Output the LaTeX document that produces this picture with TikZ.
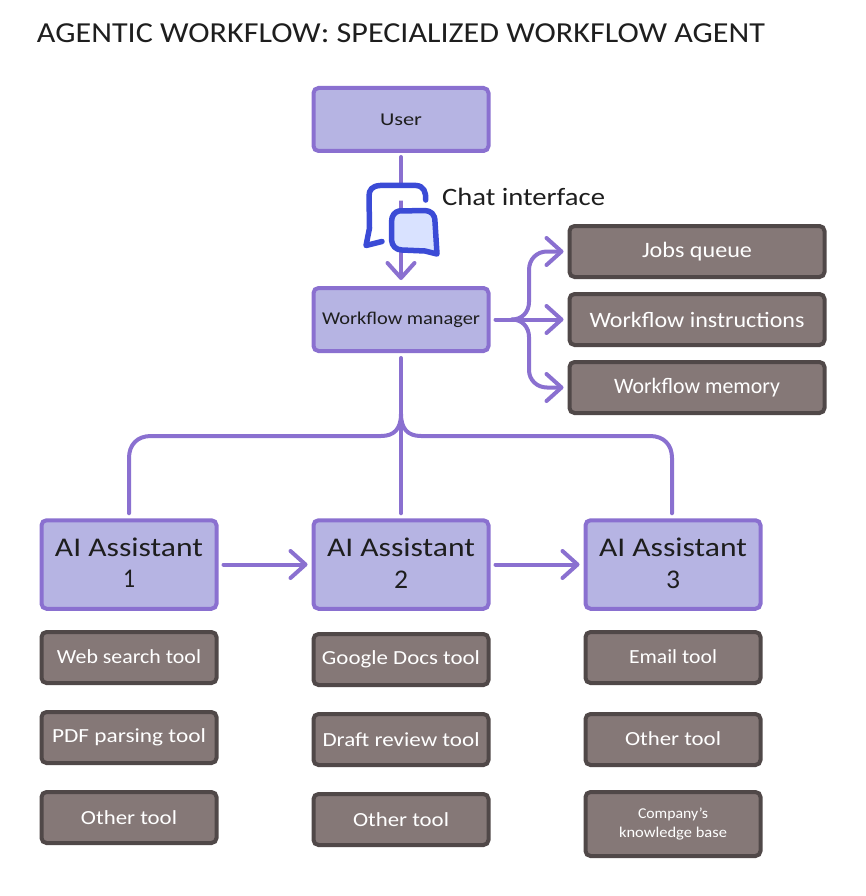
\documentclass[tikz,border=0pt]{standalone}
\usepackage{graphicx}
\usepackage{fontspec}
\setmainfont{Carlito}
\usetikzlibrary{arrows.meta,calc}
\definecolor{lilac}{HTML}{B6B4E3}
\definecolor{purp}{HTML}{8A70D0}
\definecolor{taupe}{HTML}{857877}
\definecolor{taupeline}{HTML}{504848}
\definecolor{ink}{HTML}{1E1E1E}
\definecolor{chatblue}{HTML}{3B4BD6}
\definecolor{chatfill}{HTML}{D9E2FF}
\newcommand{\lbl}[3]{\fontsize{#1}{#1}\selectfont\resizebox{#2pt}{\height}{#3}}
\tikzset{
  basebox/.style={rectangle,rounded corners=5pt,line width=4pt,inner sep=0pt,outer sep=0pt,align=center},
  lilacbox/.style={basebox,draw=purp,fill=lilac,text=ink,minimum width=175pt},
  darkbox/.style={basebox,draw=taupeline,fill=taupe,text=white,minimum width=175pt,minimum height=51pt},
  wide/.style={minimum width=255pt},
  conn/.style={draw=purp,line width=4pt,line cap=round,line join=round},
  arr/.style={conn,-{Straight Barb[length=15pt,width=27pt,round]}},
  chat/.style={draw=chatblue,line width=5.5pt,line cap=round,line join=round}
}
\begin{document}
\begin{tikzpicture}[x=1pt,y=-1pt]
\useasboundingbox (0,0) rectangle (866,896);
\node[anchor=center,text=ink] (title) at (401,33) {\lbl{29}{728}{AGENTIC WORKFLOW: SPECIALIZED WORKFLOW AGENT}};
% main nodes
\node[lilacbox,minimum height=63pt] (user) at (401,119.5) {\lbl{18}{42}{User}};
\node[lilacbox,minimum height=63pt] (mgr) at (401,319.5) {\lbl{18}{158}{Workflow manager}};
\node[lilacbox,minimum height=88.5pt] (a1) at (129,564.5) {\raisebox{3pt}{\lbl{27}{148}{AI Assistant}}\\[10pt]\raisebox{3pt}{\lbl{27}{12}{1}}};
\node[lilacbox,minimum height=88.5pt] (a2) at (401,564.5) {\raisebox{3pt}{\lbl{27}{148}{AI Assistant}}\\[10pt]\raisebox{3pt}{\lbl{27}{14}{2}}};
\node[lilacbox,minimum height=88.5pt] (a3) at (673,564.5) {\raisebox{3pt}{\lbl{27}{148}{AI Assistant}}\\[10pt]\raisebox{3pt}{\lbl{27}{14}{3}}};
% resources
\node[darkbox,wide] (jobs) at (697,251.5) {\lbl{22}{110}{Jobs queue}};
\node[darkbox,wide] (instr) at (697,319.5) {\lbl{22}{215}{Workflow instructions}};
\node[darkbox,wide] (mem) at (697,387.5) {\lbl{22}{166}{Workflow memory}};
% tools
\node[darkbox] (t11) at (129,657.5) {\raisebox{1pt}{\lbl{20}{144}{Web search tool}}};
\node[darkbox] (t12) at (129,737.5) {\lbl{20}{154}{PDF parsing tool}};
\node[darkbox] (t13) at (129,817.5) {\lbl{20}{96}{Other tool}};
\node[darkbox] (t21) at (401,659.5) {\lbl{20}{158}{Google Docs tool}};
\node[darkbox] (t22) at (401,739.5) {\lbl{20}{157}{Draft review tool}};
\node[darkbox] (t23) at (401,819.5) {\lbl{20}{96}{Other tool}};
\node[darkbox] (t31) at (673,657.5) {\raisebox{1pt}{\lbl{20}{88}{Email tool}}};
\node[darkbox] (t32) at (673,739.5) {\raisebox{1pt}{\lbl{20}{96}{Other tool}}};
\node[darkbox,minimum height=64pt] (t33) at (673,824) {\lbl{15}{70}{Company’s}\\[6pt]\lbl{15}{108}{knowledge base}};
% connectors
\draw[arr] ($(user.south)+(0,6)$) -- ($(mgr.north)+(0,-8)$);
\coordinate (fork) at (512,319.5);
\draw[arr] ($(mgr.east)+(7,0)$) -- ($(instr.west)+(-6,0)$);
\draw[arr] (fork) .. controls (522,319.5) and (529,312) .. (529,302) -- (529,270) .. controls (529,259) and (537,251.5) .. (547,251.5) -- ($(jobs.west)+(-6,0)$);
\draw[arr] (fork) .. controls (522,319.5) and (529,327) .. (529,337) -- (529,370) .. controls (529,380) and (537,387.5) .. (547,387.5) -- ($(mem.west)+(-6,0)$);
\coordinate (hub) at (401,414);
\draw[conn] ($(mgr.south)+(0,7)$) -- ($(a2.north)+(0,-7)$);
\draw[conn] (hub) .. controls (401,429) and (394,436) .. (381,436) -- (151,436) .. controls (137,436) and (129,445) .. (129,458) -- ($(a1.north)+(0,-7)$);
\draw[conn] (hub) .. controls (401,429) and (408,436) .. (421,436) -- (650,436) .. controls (664,436) and (672,445) .. (672,458) -- ($(a3.north)+(-1,-7)$);
\draw[arr] ($(a1.east)+(7,0)$) -- ($(a2.west)+(-6,0)$);
\draw[arr] ($(a2.east)+(7,0)$) -- ($(a3.west)+(-6,0)$);
% chat icon
\fill[white] (395,187) rectangle (407,200);
\draw[white,line width=1pt] (383,227) .. controls (382,210) and (385,200) .. (400,200) -- (425,200);
\draw[chat] (425.7,200) .. controls (426,192) and (424,186) .. (416,185.5) -- (380,185.5) .. controls (372,186) and (369,190) .. (369,196) -- (369.5,228) -- (366,245.5) -- (382,241.5);
\draw[chat,fill=chatfill] (399,211) .. controls (395,212) and (391.5,215) .. (391.5,222) -- (391.5,240) .. controls (392,246) and (396,250) .. (402,250) -- (425,251) -- (437,254) -- (435,222) .. controls (435,214) and (431,211) .. (425,210.5) -- cycle;
\node[anchor=center,text=ink] (chatlabel) at (523.5,197) {\lbl{25}{163}{Chat interface}};
\end{tikzpicture}
\end{document}
